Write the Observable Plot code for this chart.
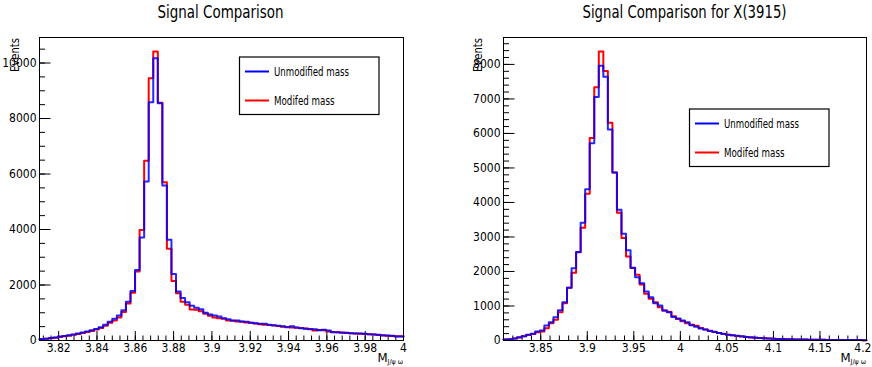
<!DOCTYPE html>
<html><head><meta charset="utf-8">
<script src="https://cdn.jsdelivr.net/npm/d3@7"></script>
<script src="https://cdn.jsdelivr.net/npm/@observablehq/plot@0.6"></script>
<style>
body{margin:0;background:#fff;}
#wrap{position:relative;width:872px;height:367px;overflow:hidden;font-family:"Liberation Sans Narrow","DejaVu Sans Condensed","Liberation Sans",Arial,sans-serif;}
.panel{position:absolute;top:0;}
#ann{position:absolute;top:0;left:0;}
</style></head><body><div id="wrap"></div>
<script>
// ---------------- data ----------------
const seriesNames = ["Unmodified mass", "Modifed mass"];
const leftTitle = "Signal Comparison";
const rightTitle = "Signal Comparison for X(3915)";
const leftRange = [3.81, 4.0];
const rightRange = [3.81, 4.2];
const leftXTicks = [3.82, 3.84, 3.86, 3.88, 3.9, 3.92, 3.94, 3.96, 3.98, 4.0];
const rightXTicks = [3.85, 3.9, 3.95, 4.0, 4.05, 4.1, 4.15, 4.2];
const leftYTicks = [0, 2000, 4000, 6000, 8000, 10000];
const rightYTicks = [0, 1000, 2000, 3000, 4000, 5000, 6000, 7000, 8000];
const leftYMax = 10920;
const rightYMax = 8780;

const leftModified = [40,60,80,100,125,150,175,205,235,270,305,345,395,450,530,640,720,830,1030,1330,
  1720,2490,3980,6475,9455,10415,8565,5700,3310,2145,1700,1400,1285,1120,1105,1057,961,889,829,805,
  781,721,715,685,680,650,640,610,590,565,560,540,520,500,490,468,460,450,430,410,
  360,380,370,325,310,300,285,270,265,255,245,235,225,215,200,185,170,160,150,150];
const leftUnmodified = [50,65,90,110,140,165,190,220,255,290,325,365,415,480,570,680,780,900,1090,1400,
  1780,2540,3715,5730,8585,10175,8550,5590,3630,2400,1770,1530,1375,1255,1177,1130,1000,937,900,865,
  805,769,721,721,685,673,637,625,600,600,565,553,529,516,480,516,468,444,420,408,
  408,372,384,360,300,300,276,276,264,252,252,240,228,216,204,180,180,168,144,144];
const rightModified = [29,39,58,90,120,160,190,241,261,357,502,599,821,1082,1527,1961,2560,3266,4251,5870,
  7340,8377,7810,6309,4870,3700,2970,2435,2100,1903,1623,1352,1208,1111,966,870,830,700,620,560,
  500,460,430,360,320,280,245,220,195,170,150,130,115,100,90,80,70,62,55,50,
  45,40,36,34,30,28,26,24,22,20,19,18,17,15,14,13,12,12,11,10];
const rightUnmodified = [29,39,58,97,125,164,193,261,290,435,531,676,879,1111,1527,2097,2565,3411,4386,5715,
  7058,7961,7640,6116,4870,3787,3092,2615,2106,1836,1662,1420,1256,1082,1014,870,820,680,640,580,
  530,440,400,350,320,275,250,215,190,170,150,135,120,105,92,80,72,64,56,50,
  45,42,38,35,32,29,27,25,23,21,20,18,17,16,15,14,13,12,11,10];

// ---------------- helpers ----------------
const FONT = '"Liberation Sans Narrow","DejaVu Sans Condensed","Liberation Sans",Arial,sans-serif';
function steps(range, values) {
  const w = (range[1] - range[0]) / values.length;
  const pts = values.map((v, i) => ({x: range[0] + i * w, y: v}));
  pts.push({x: range[1], y: values[values.length - 1]});
  return pts;
}
function minorTicks(lo, hi, step) {
  const out = [];
  for (let i = Math.ceil(lo / step - 1e-9); i * step <= hi + 1e-9; i++) out.push(+(i * step).toFixed(6));
  return out;
}
const fmt = d => String(+d.toFixed(4));

function panel({range, yMax, xTicks, xMinorStep, yTicks, yMinorStep, red, blue, margin}) {
  const W = 436, H = 367;
  const fw = W - margin.left - margin.right, fh = H - margin.top - margin.bottom;
  const xMinor = minorTicks(range[0], range[1], xMinorStep);
  const yMinor = minorTicks(0, yMax, yMinorStep);
  const edge = xTicks.filter(t => Math.abs(t - range[1]) < 1e-9 && margin.right < 10);
  const inner = xTicks.filter(t => !edge.includes(t));
  return Plot.plot({
    width: W, height: H,
    marginLeft: margin.left, marginRight: margin.right, marginTop: margin.top, marginBottom: margin.bottom,
    style: {fontFamily: FONT, fontSize: "12px", color: "#000", background: "transparent", overflow: "visible"},
    x: {domain: range, label: null},
    y: {domain: [0, yMax], label: null},
    marks: [
      Plot.ruleX(xMinor, {x: d => d, insetTop: fh - 4.5, stroke: "#000", strokeWidth: 1}),
      Plot.ruleX(xTicks, {x: d => d, insetTop: fh - 9, stroke: "#000", strokeWidth: 1}),
      Plot.ruleY(yMinor, {y: d => d, insetRight: fw - 6, stroke: "#000", strokeWidth: 1}),
      Plot.ruleY(yTicks, {y: d => d, insetRight: fw - 11.5, stroke: "#000", strokeWidth: 1}),
      Plot.line(steps(range, red), {x: "x", y: "y", curve: "step-after", stroke: "#ff0000", strokeWidth: 2}),
      Plot.line(steps(range, blue), {x: "x", y: "y", curve: "step-after", stroke: "#0000ff", strokeWidth: 2, strokeOpacity: 0.85}),
      Plot.frame({stroke: "#000", strokeWidth: 1}),
      Plot.axisX({ticks: inner, tickSize: 0, tickPadding: 3, tickFormat: fmt, label: null}),
      ...(edge.length ? [Plot.axisX({ticks: edge, tickSize: 0, tickPadding: 3, tickFormat: fmt, label: null, textAnchor: "end", dx: 5})] : []),
      Plot.axisY({ticks: yTicks, tickSize: 0, tickPadding: 3, tickFormat: d => String(d), label: null})
    ]
  });
}

const wrap = document.getElementById("wrap");
const left = panel({range: leftRange, yMax: leftYMax, xTicks: leftXTicks, xMinorStep: 0.004,
  yTicks: leftYTicks, yMinorStep: 500, red: leftModified, blue: leftUnmodified,
  margin: {left: 39, right: 33, top: 37, bottom: 27}});
left.classList.add("panel"); left.style.left = "0px"; left.style.position = "absolute";
wrap.appendChild(left);
const right = panel({range: rightRange, yMax: rightYMax, xTicks: rightXTicks, xMinorStep: 0.01,
  yTicks: rightYTicks, yMinorStep: 200, red: rightModified, blue: rightUnmodified,
  margin: {left: 67, right: 6, top: 37, bottom: 27}});
right.classList.add("panel"); right.style.left = "436px"; right.style.position = "absolute";
wrap.appendChild(right);

// ---------------- annotations (titles, legends, axis titles) ----------------
const svg = d3.select(wrap).append("svg").attr("id", "ann").attr("width", 872).attr("height", 367)
  .style("font-family", FONT);
function title(x, text, len) {
  svg.append("text").attr("x", x).attr("y", 18).attr("text-anchor", "middle")
    .attr("font-size", 18).attr("textLength", len).attr("lengthAdjust", "spacingAndGlyphs").text(text);
}
title(220.5, leftTitle, 126);
title(684.5, rightTitle, 204);

function legend(x0, y0, w, h) {
  svg.append("rect").attr("x", x0 + 0.5).attr("y", y0 + 0.5).attr("width", w).attr("height", h)
    .attr("fill", "#fff").attr("stroke", "#000").attr("stroke-width", 1.2);
  const rows = [{c: "#0000ff", t: seriesNames[0], dy: 15, len: 75}, {c: "#ff0000", t: seriesNames[1], dy: 44, len: 60.5}];
  for (const r of rows) {
    svg.append("line").attr("x1", x0 + 6).attr("x2", x0 + 30).attr("y1", y0 + r.dy).attr("y2", y0 + r.dy)
      .attr("stroke", r.c).attr("stroke-width", 2);
    svg.append("text").attr("x", x0 + 35).attr("y", y0 + r.dy).attr("dy", "0.35em")
      .attr("font-size", 12).attr("textLength", r.len).attr("lengthAdjust", "spacingAndGlyphs").text(r.t);
  }
}
legend(239, 56.5, 139.5, 57.5);
legend(689, 108.5, 139.5, 57.5);

function yTitle(x) {
  svg.append("text").attr("transform", `translate(${x},38) rotate(-90)`).attr("text-anchor", "end")
    .attr("font-size", 13).attr("textLength", 34).attr("lengthAdjust", "spacingAndGlyphs").text("Events");
}
yTitle(18.5);
yTitle(482);

function xTitle(xEnd) {
  const t = svg.append("text").attr("x", xEnd).attr("y", 362).attr("text-anchor", "end").attr("font-size", 13);
  t.append("tspan").text("M");
  t.append("tspan").attr("font-size", 7).attr("dy", 2).text("J/ψ ω");
}
xTitle(403);
xTitle(866);
</script></body></html>
